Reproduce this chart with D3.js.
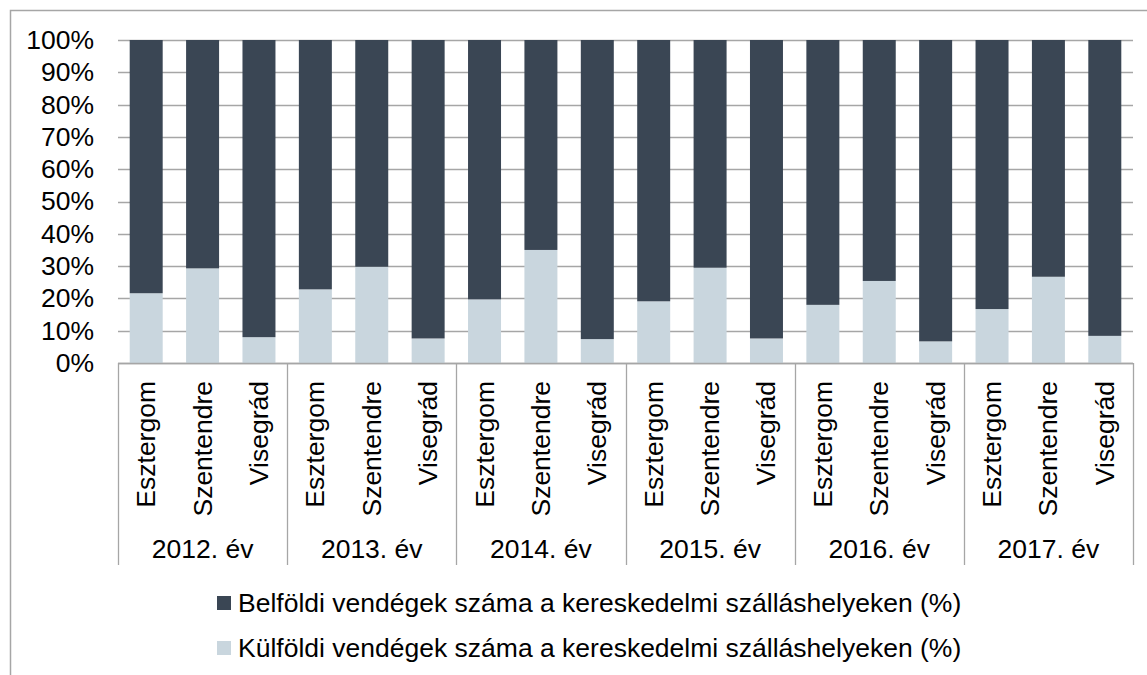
<!DOCTYPE html>
<meta charset="utf-8">
<style>
  body { margin: 0; background: #fff; }
  svg { display: block; font-family: Arial, "Liberation Sans", sans-serif; }
</style>
<body>
<div id="vis"></div>
<script src="https://cdn.jsdelivr.net/npm/d3@7/dist/d3.min.js"></script>
<script>

const width = 1147,
    height = 675;

const dark = '#3a4654';
const light = '#c9d6de';
const gridColor = '#a6a6a6';
const fontSize = '26.5px';

// categories
const years = ['2012. év', '2013. év', '2014. év', '2015. év', '2016. év', '2017. év'];
const towns = ['Esztergom', 'Szentendre', 'Visegrád'];

// series values (%), one per year/town, in order
const kulfoldi = [21.6, 29.3, 8.0, 22.8, 29.8, 7.6, 19.7, 35.0, 7.4, 19.1, 29.5, 7.6, 18.0, 25.4, 6.7, 16.7, 26.7, 8.4];
const belfoldi = [78.4, 70.7, 92.0, 77.2, 70.2, 92.4, 80.3, 65.0, 92.6, 80.9, 70.5, 92.4, 82.0, 74.6, 93.3, 83.3, 73.3, 91.6];

const seriesNames = [
  'Belföldi vendégek száma a kereskedelmi szálláshelyeken (%)',
  'Külföldi vendégek száma a kereskedelmi szálláshelyeken (%)'
];
const yTicks = [0, 0.1, 0.2, 0.3, 0.4, 0.5, 0.6, 0.7, 0.8, 0.9, 1];

let rows = [];
years.forEach((yr, yi) => {
  towns.forEach((t, ti) => {
    let i = yi * towns.length + ti;
    rows.push({ key: yr + '|' + t, year: yr, town: t, kulfoldi: kulfoldi[i], belfoldi: belfoldi[i] });
  });
});

const stack = d3.stack()
  .keys(['kulfoldi', 'belfoldi'])
  .offset(d3.stackOffsetExpand);
const layers = stack(rows);

const plotLeft = 118, plotRight = 1133, plotTop = 40, plotBottom = 363;
const pad = 0.415;

const x = d3.scaleBand()
  .domain(rows.map(d => d.key))
  .range([plotLeft, plotRight])
  .paddingInner(pad)
  .paddingOuter(pad / 2);

const xYear = d3.scaleBand()
  .domain(years)
  .range([plotLeft, plotRight]);

const y = d3.scaleLinear()
  .domain([0, 1])
  .range([plotBottom, plotTop]);

const svg = d3.select('#vis')
  .append('svg')
  .attr('width', width)
  .attr('height', height);

// outer frame (right and bottom edges fall outside the picture)
svg.append('rect')
  .attr('x', 10.5)
  .attr('y', 10.5)
  .attr('width', width + 20)
  .attr('height', height + 20)
  .style('fill', 'none')
  .style('stroke', '#a6a6a6')
  .style('stroke-width', 1.5);

// gridlines
svg.append('g')
  .selectAll('line')
  .data(yTicks)
  .enter().append('line')
  .attr('x1', plotLeft)
  .attr('x2', plotRight)
  .attr('y1', d => Math.round(y(d)) + 0.5)
  .attr('y2', d => Math.round(y(d)) + 0.5)
  .style('stroke', gridColor)
  .style('stroke-width', 1.3);

// y labels
const yAxis = d3.axisLeft(y)
  .tickValues(yTicks)
  .tickFormat(d3.format('.0%'))
  .tickSize(0)
  .tickPadding(24);
const yG = svg.append('g')
  .attr('transform', 'translate(' + plotLeft + ',0)')
  .call(yAxis);
yG.select('.domain').remove();
yG.selectAll('text')
  .style('font-size', fontSize)
  .style('font-family', 'Arial, "Liberation Sans", sans-serif')
  .style('fill', '#000');

// bars
svg.append('g')
  .selectAll('g')
  .data(layers)
  .enter().append('g')
  .style('fill', d => (d.key == 'kulfoldi' ? light : dark))
  .selectAll('rect')
  .data(d => d)
  .enter().append('rect')
  .attr('x', d => x(d.data.key))
  .attr('width', x.bandwidth())
  .attr('y', d => y(d[1]))
  .attr('height', d => y(d[0]) - y(d[1]));

// category axis: baseline and group separators
const axisG = svg.append('g');
axisG.append('line')
  .attr('x1', plotLeft)
  .attr('x2', plotRight)
  .attr('y1', plotBottom + 0.5)
  .attr('y2', plotBottom + 0.5)
  .style('stroke', gridColor)
  .style('stroke-width', 1.5);
axisG.selectAll('.sep')
  .data(years.map(d => xYear(d)).concat([plotRight]))
  .enter().append('line')
  .attr('class', 'sep')
  .attr('x1', d => Math.round(d) + 0.5)
  .attr('x2', d => Math.round(d) + 0.5)
  .attr('y1', plotBottom)
  .attr('y2', 565)
  .style('stroke', gridColor)
  .style('stroke-width', 1.3);

// town labels (rotated)
axisG.selectAll('.town')
  .data(rows)
  .enter().append('text')
  .attr('class', 'town')
  .attr('transform', d => 'translate(' + (x(d.key) + x.bandwidth() / 2 + 9) + ',381) rotate(-90)')
  .style('text-anchor', 'end')
  .style('font-size', fontSize)
  .text(d => d.town);

// year labels
axisG.selectAll('.year')
  .data(years)
  .enter().append('text')
  .attr('class', 'year')
  .attr('x', d => xYear(d) + xYear.bandwidth() / 2)
  .attr('y', 558)
  .style('text-anchor', 'middle')
  .style('font-size', fontSize)
  .text(d => d);

// legend
const legend = svg.append('g');
const legendItems = legend.selectAll('g')
  .data(seriesNames)
  .enter().append('g')
  .attr('transform', (d, i) => 'translate(217,' + (603 + i * 45) + ')');
legendItems.append('rect')
  .attr('x', 0)
  .attr('y', -7)
  .attr('width', 14)
  .attr('height', 14)
  .style('fill', (d, i) => (i == 0 ? dark : light));
legendItems.append('text')
  .attr('x', 21)
  .attr('y', 9)
  .style('font-size', fontSize)
  .text(d => d);

</script>
</body>
